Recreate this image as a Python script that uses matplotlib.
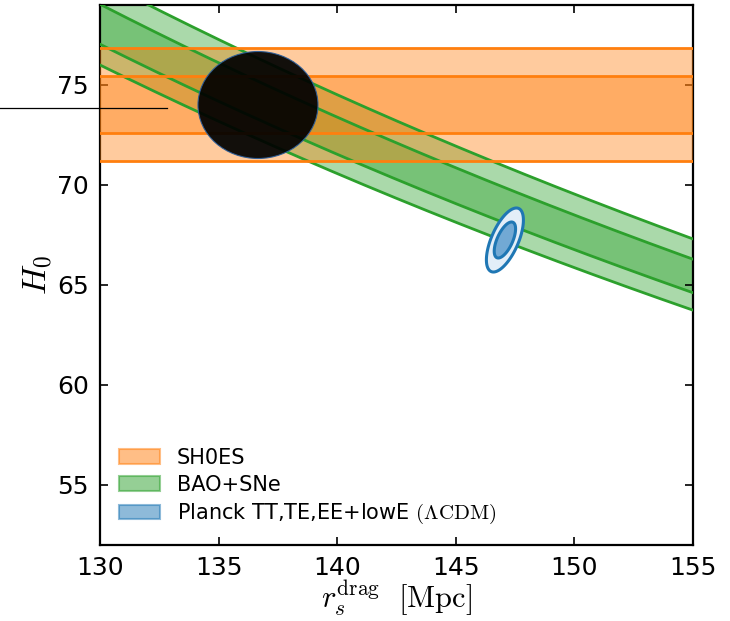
import numpy as np
import matplotlib
matplotlib.use("Agg")
import matplotlib.pyplot as plt
from matplotlib.patches import Ellipse, Patch
from matplotlib.lines import Line2D

plt.rcParams["mathtext.fontset"] = "cm"

# SH0ES H0 constraint: 2-sigma and 1-sigma intervals [km/s/Mpc]
shoes_2sig = [71.19, 76.87]
shoes_1sig = [72.61, 75.45]

# BAO+SNe constraint on the product H0 * r_s^drag [km/s]
bao_2sig = [9880.0, 10432.0]
bao_1sig = [10015.0, 10275.0]

# Planck TT,TE,EE+lowE (LCDM) contours: centre, half-extents (1 and 2 sigma), correlation
planck_center = [147.07, 67.25]
planck_half_rd = [0.45, 0.78]
planck_half_h0 = [0.90, 1.60]
planck_rho = 0.62

# Local H0 estimate shown as a dark blob
blob_center = [136.66, 74.0]
blob_size = [5.06, 5.35]

x_ticks = [130, 135, 140, 145, 150, 155]
y_ticks = [55, 60, 65, 70, 75]

orange = "#ff7f0e"
green = "#2ca02c"
blue = "#1f77b4"

fig = plt.figure(figsize=(7.30, 6.21), dpi=100)
ax = fig.add_axes([100 / 730, 1 - 545 / 621, 593 / 730, 540 / 621])

rd = np.linspace(130, 155, 300)

# BAO+SNe bands
for lo, hi in (bao_2sig, bao_1sig):
    ax.fill_between(rd, lo / rd, hi / rd, color=green, alpha=0.4, lw=0, zorder=1)
for val in bao_2sig + bao_1sig:
    ax.plot(rd, val / rd, color=green, lw=2.0, zorder=4)

# SH0ES bands
for lo, hi in (shoes_2sig, shoes_1sig):
    ax.axhspan(lo, hi, color=orange, alpha=0.4, lw=0, zorder=3)
for val in shoes_2sig + shoes_1sig:
    ax.axhline(val, color=orange, lw=2.0, zorder=5)

ax.add_patch(Ellipse(blob_center, blob_size[0], blob_size[1], facecolor="black",
                     alpha=0.93, edgecolor="#2b5d9a", lw=0.8, zorder=6))

# Planck contours (outer 2-sigma first, then inner 1-sigma)
t = np.linspace(0, 2 * np.pi, 400)
phi = np.arccos(planck_rho)
fills = ["#72a9d4", "#e3eef8"]
for k in (1, 0):
    px = planck_center[0] + planck_half_rd[k] * np.cos(t)
    py = planck_center[1] + planck_half_h0[k] * np.cos(t - phi)
    ax.fill(px, py, facecolor=fills[k], edgecolor=blue, lw=2.2, zorder=7)

ax.set_xlim(130, 155)
ax.set_ylim(52, 79)
ax.set_xticks(x_ticks)
ax.set_yticks(y_ticks)
ax.tick_params(direction="in", top=True, right=True, labelsize=18,
               length=6, width=1.2, pad=8)
for s in ax.spines.values():
    s.set_linewidth(1.6)

ax.set_xlabel(r"$r_s^{\rm drag}\ \ [\rm Mpc]$", fontsize=22)
ax.xaxis.set_label_coords(0.5, -0.062)
ax.xaxis.label.set_verticalalignment("top")
ax.set_ylabel(r"$H_0$", fontsize=24, labelpad=2)

handles = [
    Patch(facecolor=orange, alpha=0.5, edgecolor=orange, lw=1.5),
    Patch(facecolor=green, alpha=0.5, edgecolor=green, lw=1.5),
    Patch(facecolor=blue, alpha=0.5, edgecolor=blue, lw=1.5),
]
labels = ["SH0ES", "BAO+SNe", r"Planck TT,TE,EE+lowE $(\Lambda\mathrm{CDM})$"]
ax.legend(handles, labels, loc="lower left", frameon=False, fontsize=15,
          handlelength=2.0, handletextpad=0.8, labelspacing=0.35,
          bbox_to_anchor=(0.0, 0.0))

fig.add_artist(Line2D([0, 167 / 730], [1 - 108 / 621] * 2, color="black", lw=0.9,
                      transform=fig.transFigure))

fig.savefig("out.png", dpi=100)
